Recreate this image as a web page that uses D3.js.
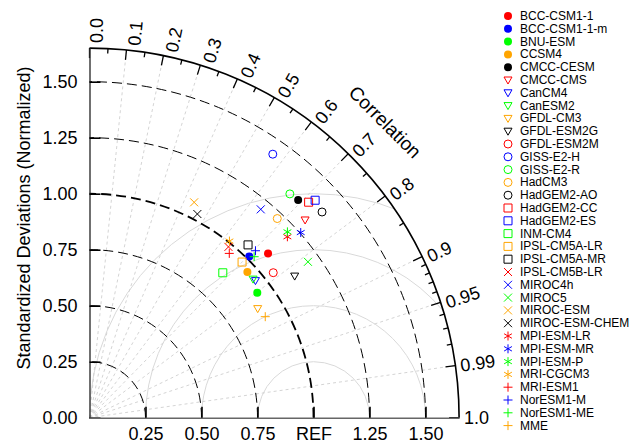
<!DOCTYPE html>
<html>
<head>
<meta charset="utf-8">
<script src="https://cdn.jsdelivr.net/npm/d3@7"></script>
<style>
	body { margin: 0; background: #fff; }
	text { font-family: "Liberation Sans", Arial, Helvetica, sans-serif; fill: #000; }
</style>
</head>
<body>
<svg id="taylor" width="631" height="444"></svg>
<script>
"use strict";

// données : modèles, écart-type normalisé, corrélation
const models = ["BCC-CSM1-1", "BCC-CSM1-1-m", "BNU-ESM", "CCSM4", "CMCC-CESM",
	"CMCC-CMS", "CanCM4", "CanESM2", "GFDL-CM3", "GFDL-ESM2G",
	"GFDL-ESM2M", "GISS-E2-H", "GISS-E2-R", "HadCM3", "HadGEM2-AO",
	"HadGEM2-CC", "HadGEM2-ES", "INM-CM4", "IPSL-CM5A-LR", "IPSL-CM5A-MR",
	"IPSL-CM5B-LR", "MIROC4h", "MIROC5", "MIROC-ESM", "MIROC-ESM-CHEM",
	"MPI-ESM-LR", "MPI-ESM-MR", "MPI-ESM-P", "MRI-CGCM3",
	"MRI-ESM1", "NorESM1-M", "NorESM1-ME", "MME"];

const colors = ["red", "blue", "lime", "orange", "black",
	"red", "blue", "lime", "orange", "black",
	"red", "blue", "lime", "orange", "black",
	"red", "blue", "lime", "orange", "black",
	"red", "blue", "lime", "orange", "black",
	"red", "blue", "lime", "orange",
	"red", "blue", "lime", "orange"];

const markers = ["dot", "dot", "dot", "dot", "dot",
	"tri", "tri", "tri", "tri", "tri",
	"circle", "circle", "circle", "circle", "circle",
	"square", "square", "square", "square", "square",
	"cross", "cross", "cross", "cross", "cross",
	"star", "star", "star", "star",
	"plus", "plus", "plus", "plus"];

const stdRatio = [1.083, 1.013, 0.934, 0.959, 1.346,
	1.306, 0.961, 0.957, 0.895, 1.113,
	1.045, 1.433, 1.341, 1.222, 1.386,
	1.372, 1.399, 0.879, 0.973, 1.047,
	0.983, 1.204, 1.198, 1.069, 1.029,
	1.197, 1.254, 1.212, 1.006,
	0.963, 1.051, 1.028, 0.905];

const corr = [0.736, 0.704, 0.802, 0.735, 0.692,
	0.737, 0.771, 0.763, 0.839, 0.823,
	0.785, 0.571, 0.667, 0.686, 0.749,
	0.713, 0.720, 0.677, 0.700, 0.676,
	0.631, 0.635, 0.814, 0.437, 0.468,
	0.738, 0.752, 0.729, 0.621,
	0.648, 0.705, 0.715, 0.867];

// graduations
const stdMax = 1.65;
const yTicks = [0, 0.25, 0.5, 0.75, 1.0, 1.25, 1.5];
const xTicks = [0.25, 0.5, 0.75, 1.0, 1.25, 1.5];
const stdArcs = [0.25, 0.5, 0.75, 1.0, 1.25, 1.5];
const rmsArcs = [0.25, 0.5, 0.75, 1.0];
const corrMajor = [0, 0.1, 0.2, 0.3, 0.4, 0.5, 0.6, 0.7, 0.8, 0.9, 0.95, 0.99, 1.0];
const corrMinor = [0.05, 0.15, 0.25, 0.35, 0.45, 0.55, 0.65, 0.75, 0.85,
	0.91, 0.92, 0.93, 0.94, 0.96, 0.97, 0.98];
const corrGrid = [0.1, 0.2, 0.3, 0.4, 0.5, 0.6, 0.7, 0.8, 0.9, 0.95, 0.99];


const svg = d3.select("#taylor");
const x0 = 89.5, y0 = 417.7, k = 224;

const x = d3.scaleLinear().domain([0, stdMax]).range([x0, x0 + stdMax * k]);
const y = d3.scaleLinear().domain([0, stdMax]).range([y0, y0 - stdMax * k]);
const R = x(stdMax) - x0;

// point (écart-type, corrélation) -> coordonnées écran
const polar = (s, c) => [x(s * c), y(s * Math.sqrt(1 - c * c))];

// zone de découpe : quart de disque
svg.append("defs")
.append("clipPath")
.attr("id", "quart")
.append("path")
.attr("d", "M" + x0 + "," + y0 + "L" + x(stdMax) + "," + y0 +
	"A" + R + " " + R + " 0 0 0 " + x0 + "," + y(stdMax) + "Z");

// cercles RMS autour de REF
svg.append("g")
.attr("clip-path", "url(#quart)")
.selectAll("circle")
.data(rmsArcs)
.enter()
	.append("circle")
	.attr("cx", x(1))
	.attr("cy", y0)
	.attr("r", d => x(d) - x0)
	.attr("fill", "none")
	.attr("stroke", "#d9d9d9")
	.attr("stroke-width", 1);

// rayons de corrélation
svg.append("g")
.selectAll("line")
.data(corrGrid)
.enter()
	.append("line")
	.attr("x1", x0)
	.attr("y1", y0)
	.attr("x2", d => polar(stdMax, d)[0])
	.attr("y2", d => polar(stdMax, d)[1])
	.attr("stroke", "#cfcfcf")
	.attr("stroke-width", 0.9)
	.attr("stroke-dasharray", "3,3");

// arcs d'écart-type
svg.append("g")
.selectAll("path")
.data(stdArcs)
.enter()
	.append("path")
	.attr("d", d => {
		const r = x(d) - x0;
		return "M" + x(d) + "," + y0 + "A" + r + " " + r + " 0 0 0 " + x0 + "," + y(d);
	})
	.attr("fill", "none")
	.attr("stroke", "#000")
	.attr("stroke-width", d => d === 1 ? 1.8 : 1)
	.attr("stroke-dasharray", "10,5");

// arc extérieur
svg.append("path")
.attr("d", "M" + x(stdMax) + "," + y0 + "A" + R + " " + R + " 0 0 0 " + x0 + "," + y(stdMax))
.attr("fill", "none")
.attr("stroke", "#000")
.attr("stroke-width", 1.6);

// graduations de corrélation
const gCorr = svg.append("g");
[[corrMajor, 10], [corrMinor, 5]].forEach(([vals, len]) => {
	gCorr.selectAll(null)
	.data(vals)
	.enter()
		.append("line")
		.attr("x1", d => polar(stdMax, d)[0])
		.attr("y1", d => polar(stdMax, d)[1])
		.attr("x2", d => polar(stdMax - len / k, d)[0])
		.attr("y2", d => polar(stdMax - len / k, d)[1])
		.attr("stroke", "#000")
		.attr("stroke-width", 1.3);
});

gCorr.selectAll("text")
.data(corrMajor)
.enter()
	.append("text")
	.attr("transform", d => {
		const t = Math.acos(d);
		const px = x0 + (R + 5) * Math.cos(t) + 7.5 * Math.sin(t) * Math.sin(t);
		const py = y0 - (R + 5) * Math.sin(t) + 7.5 * Math.sin(t) * Math.cos(t);
		return "translate(" + px + "," + py + ") rotate(" + (-t * 180 / Math.PI) + ")";
	})
	.attr("dominant-baseline", "central")
	.style("font-size", "18px")
	.text(d => d === 0 ? "0.0" : d === 1 ? "1.0" : String(d));

svg.append("text")
.attr("transform", "translate(" + (x0 + 418 * Math.SQRT1_2) + "," + (y0 - 418 * Math.SQRT1_2) + ") rotate(45)")
.attr("text-anchor", "middle")
.attr("dominant-baseline", "central")
.style("font-size", "19px")
.text("Correlation");

// axes
const axeY = svg.append("g")
.attr("transform", "translate(" + x0 + ",0)")
.call(d3.axisLeft(y)
	.tickValues(yTicks)
	.tickSize(-11)
	.tickSizeOuter(0)
	.tickPadding(12)
	.tickFormat(d3.format(".2f")));

const axeX = svg.append("g")
.attr("transform", "translate(0," + y0 + ")")
.call(d3.axisBottom(x)
	.tickValues(xTicks)
	.tickSize(-11)
	.tickSizeOuter(0)
	.tickPadding(9.5)
	.tickFormat(d => d === 1 ? "REF" : d3.format(".2f")(d)));

[axeX, axeY].forEach(a => {
	a.selectAll("text").style("font-size", "18px").attr("fill", "#000");
	a.selectAll(".tick line").attr("stroke", "#000").attr("stroke-width", 1.6);
});
axeY.select(".domain").attr("stroke", "#333").attr("stroke-width", 1.4);
axeX.select(".domain").attr("stroke", "#666").attr("stroke-width", 1.6);

svg.append("text")
.attr("transform", "translate(30,218) rotate(-90)")
.attr("text-anchor", "middle")
.style("font-size", "18px")
.text("Standardized Deviations (Normalized)");

// marqueurs
function markerPath(type) {
	const s = 4;
	switch (type) {
		case "dot":
		case "circle":
			return "M" + s + ",0A" + s + " " + s + " 0 1 1 " + (-s) + ",0A" + s + " " + s + " 0 1 1 " + s + ",0Z";
		case "tri":
			return "M" + (-s) + "," + (-3) + "L" + s + "," + (-3) + "L0," + 4 + "Z";
		case "square":
			return "M" + (-s) + "," + (-s) + "H" + s + "V" + s + "H" + (-s) + "Z";
		case "cross":
			return "M-4,-4L4,4M-4,4L4,-4";
		case "star":
			return "M0,-4.5V4.5M-3.9,-2.25L3.9,2.25M-3.9,2.25L3.9,-2.25";
		case "plus":
			return "M-4.5,0H4.5M0,-4.5V4.5";
	}
}

function styler(sel) {
	sel.attr("d", i => markerPath(markers[i]))
	.attr("fill", i => markers[i] === "dot" ? colors[i] : "none")
	.attr("stroke", i => markers[i] === "dot" ? "none" : colors[i])
	.attr("stroke-width", 1);
}

svg.append("g")
.selectAll("path")
.data(d3.range(models.length))
.enter()
	.append("path")
	.attr("transform", i => "translate(" + polar(stdRatio[i], corr[i]) + ")")
	.call(styler);

// légende
const legende = svg.append("g")
.selectAll("g")
.data(d3.range(models.length))
.enter()
	.append("g")
	.attr("transform", i => "translate(508," + (16 + i * 12.8) + ")");

legende.append("path").call(styler);
legende.append("text")
.attr("x", 12)
.attr("dominant-baseline", "central")
.style("font-size", "12px")
.text(i => models[i]);
</script>
</body>
</html>
